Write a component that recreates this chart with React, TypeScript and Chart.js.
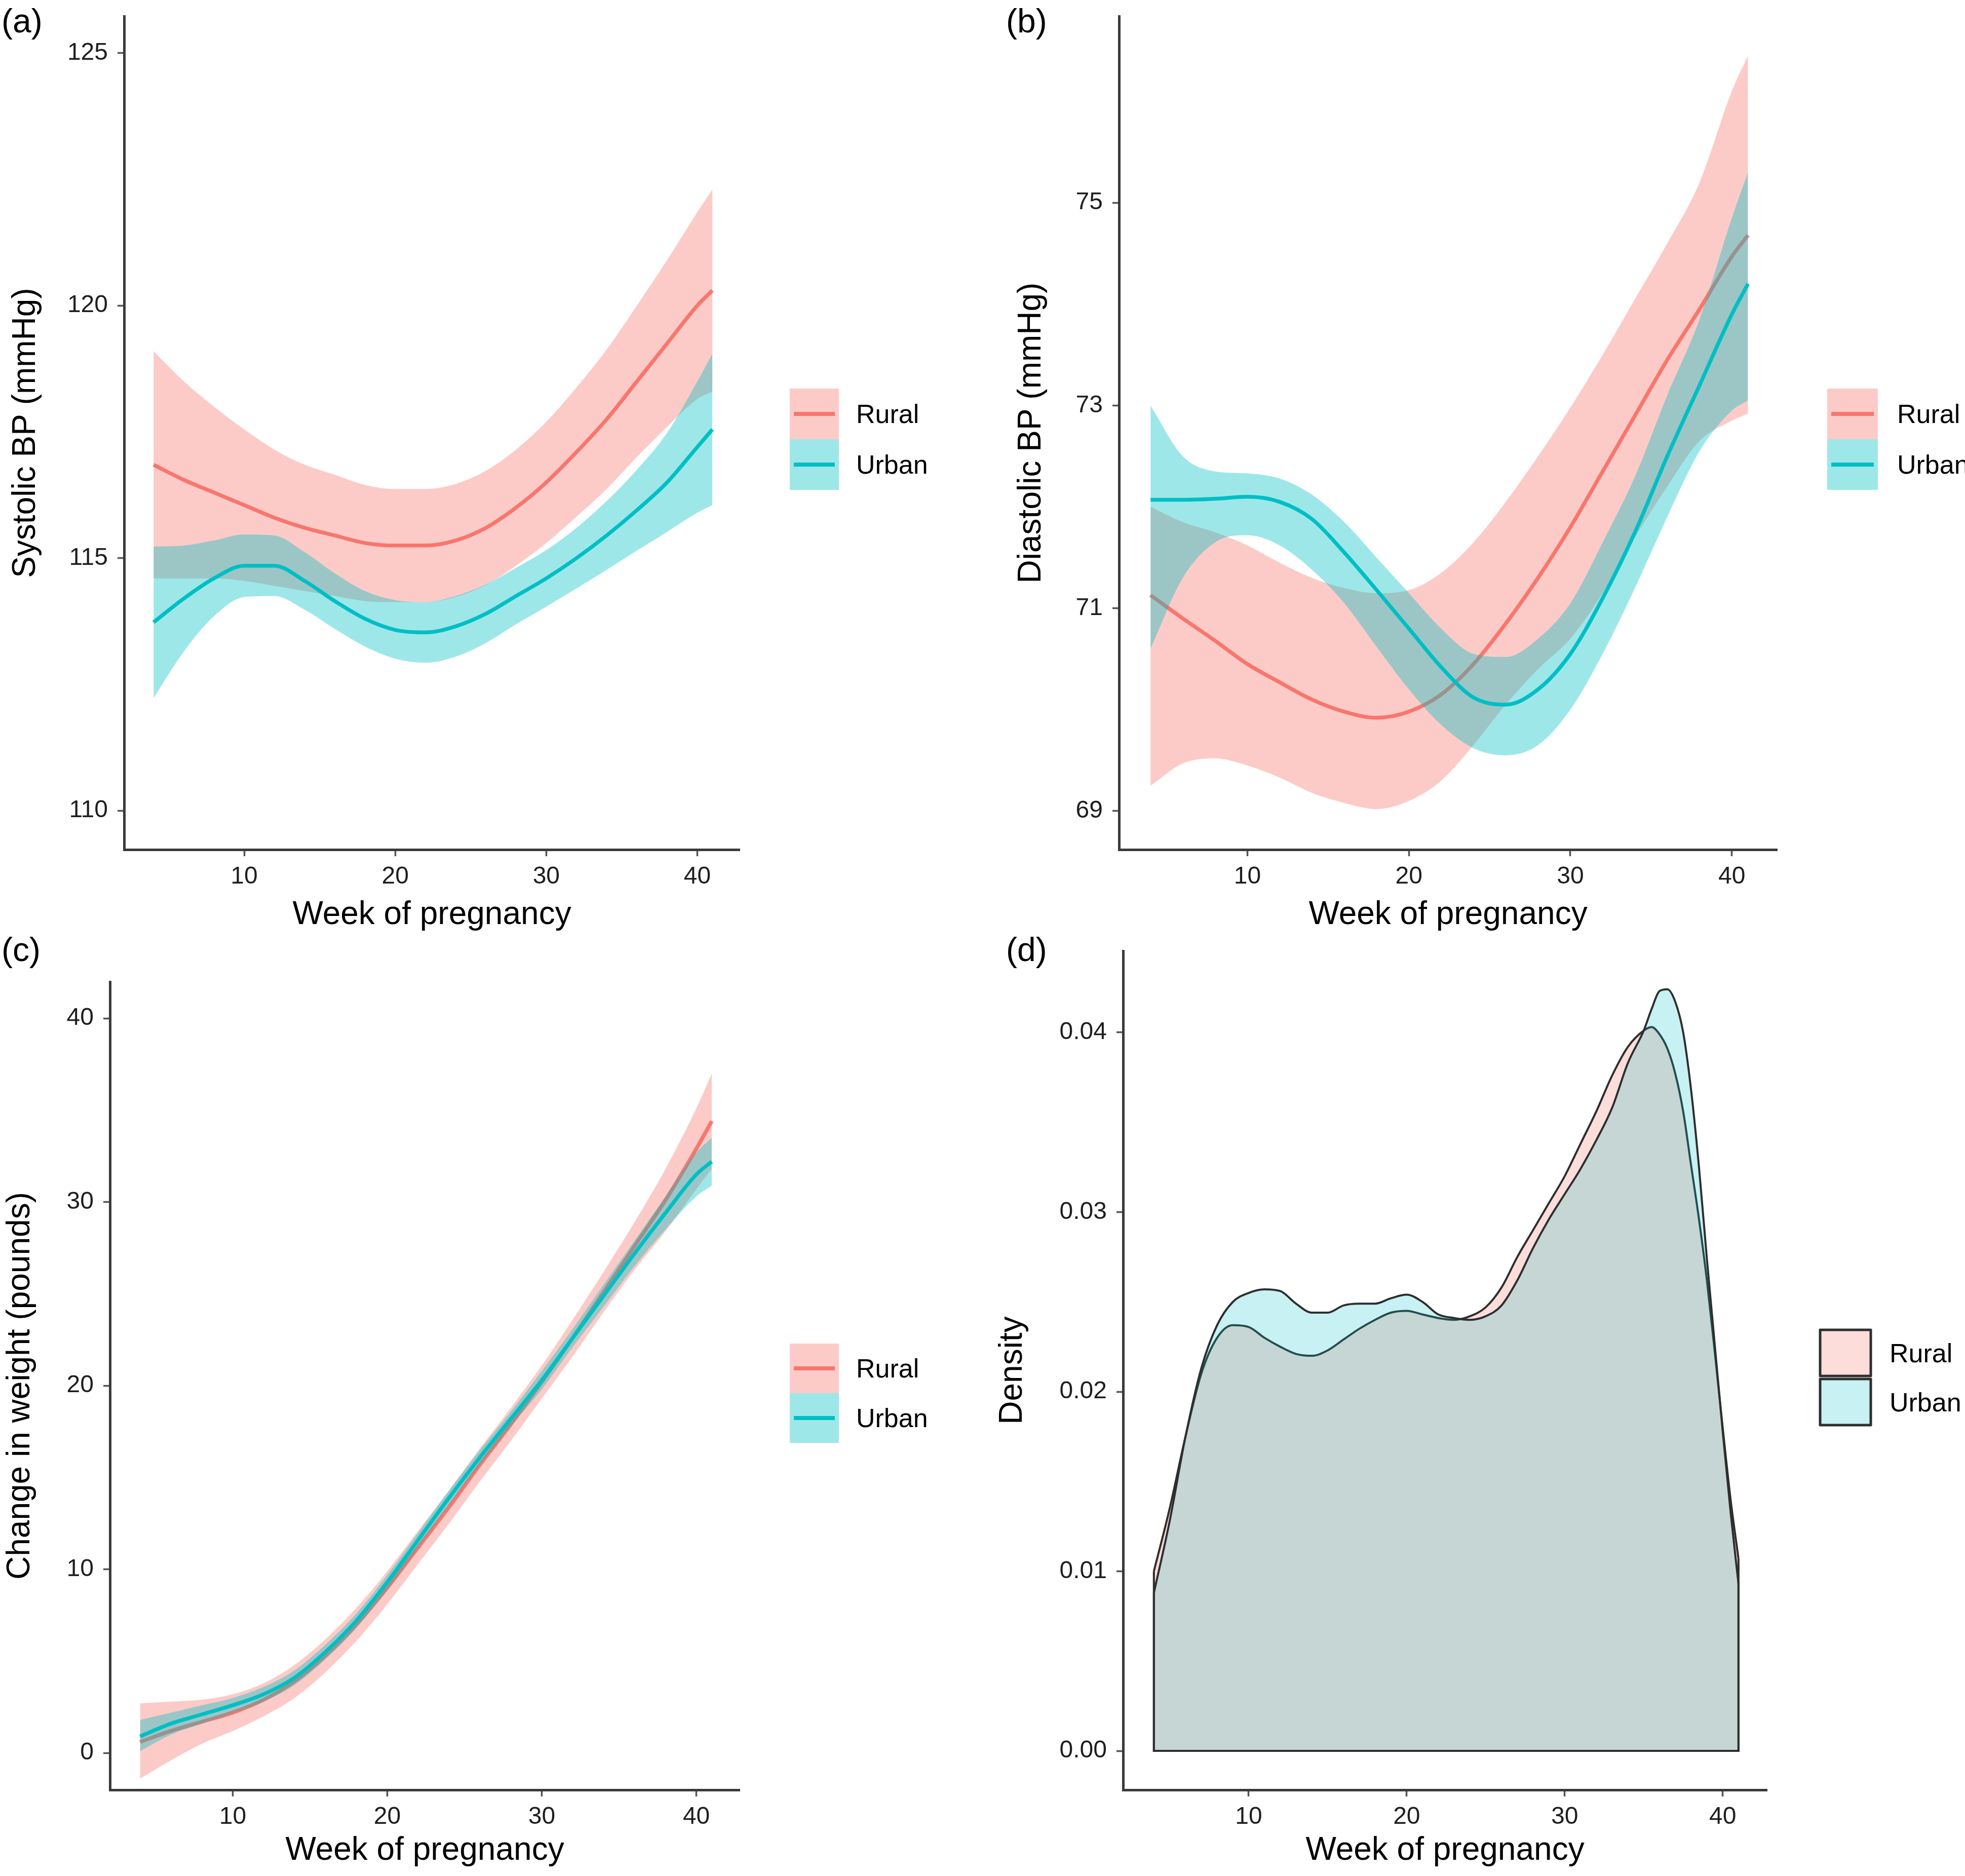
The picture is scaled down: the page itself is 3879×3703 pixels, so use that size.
import React, { useEffect, useRef } from 'react';
import { Chart, registerables } from 'chart.js';

Chart.register(...registerables);

// ---------------- DATA ----------------
const groups = ['Rural', 'Urban'];
const weeks = [4, 6, 8, 10, 12, 14, 16, 18, 20, 22, 24, 26, 28, 30, 32, 34, 36, 38, 40, 41];

// (a) Systolic BP
const sbpRural = [116.85, 116.55, 116.3, 116.05, 115.8, 115.6, 115.45, 115.3, 115.25, 115.25, 115.35, 115.6, 116.0, 116.5, 117.1, 117.75, 118.5, 119.25, 120.0, 120.3];
const sbpRuralHi = [119.1, 118.5, 118.0, 117.55, 117.15, 116.85, 116.65, 116.45, 116.37, 116.37, 116.47, 116.73, 117.15, 117.7, 118.38, 119.13, 120.0, 120.9, 121.85, 122.3];
const sbpRuralLo = [114.6, 114.6, 114.6, 114.55, 114.45, 114.35, 114.25, 114.15, 114.13, 114.13, 114.23, 114.47, 114.85, 115.3, 115.82, 116.37, 117.0, 117.6, 118.15, 118.3];
const sbpUrban = [113.73, 114.2, 114.6, 114.85, 114.85, 114.55, 114.15, 113.8, 113.58, 113.53, 113.65, 113.9, 114.25, 114.6, 115.0, 115.45, 115.95, 116.5, 117.2, 117.55];
const sbpUrbanHi = [115.23, 115.25, 115.35, 115.47, 115.45, 115.12, 114.7, 114.35, 114.17, 114.13, 114.25, 114.48, 114.81, 115.16, 115.6, 116.13, 116.75, 117.48, 118.5, 119.05];
const sbpUrbanLo = [112.23, 113.15, 113.85, 114.23, 114.25, 113.98, 113.6, 113.25, 113.01, 112.93, 113.05, 113.32, 113.69, 114.04, 114.4, 114.77, 115.15, 115.52, 115.9, 116.05];

// (b) Diastolic BP
const dbpRural = [71.13, 70.9, 70.68, 70.45, 70.27, 70.1, 69.98, 69.92, 69.98, 70.15, 70.45, 70.85, 71.3, 71.8, 72.35, 72.9, 73.45, 73.95, 74.47, 74.68];
const dbpRuralHi = [72.0, 71.85, 71.75, 71.62, 71.45, 71.3, 71.2, 71.15, 71.18, 71.35, 71.65, 72.05, 72.5, 72.98, 73.5, 74.05, 74.6, 75.2, 76.1, 76.45];
const dbpRuralLo = [69.25, 69.47, 69.52, 69.45, 69.33, 69.18, 69.08, 69.02, 69.1, 69.3, 69.65, 70.05, 70.4, 70.7, 71.15, 71.7, 72.2, 72.65, 72.85, 72.92];
const dbpUrban = [72.07, 72.07, 72.08, 72.1, 72.05, 71.88, 71.55, 71.18, 70.8, 70.42, 70.12, 70.05, 70.2, 70.55, 71.1, 71.75, 72.5, 73.2, 73.9, 74.2];
const dbpUrbanHi = [73.0, 72.5, 72.35, 72.33, 72.28, 72.12, 71.85, 71.5, 71.15, 70.8, 70.55, 70.52, 70.7, 71.05, 71.65, 72.3, 73.1, 73.85, 74.85, 75.3];
const dbpUrbanLo = [70.6, 71.3, 71.65, 71.72, 71.62, 71.38, 71.05, 70.62, 70.2, 69.85, 69.62, 69.55, 69.65, 70.0, 70.55, 71.2, 71.9, 72.55, 72.95, 73.05];

// (c) Change in weight
const wtRural = [0.6, 1.2, 1.7, 2.2, 2.9, 3.9, 5.3, 7.0, 9.0, 11.2, 13.4, 15.7, 17.9, 20.2, 22.6, 25.1, 27.6, 30.1, 32.9, 34.4];
const wtRuralHi = [2.7, 2.8, 2.9, 3.2, 3.8, 4.8, 6.2, 7.9, 9.9, 12.1, 14.3, 16.6, 18.8, 21.1, 23.6, 26.2, 28.9, 31.8, 35.1, 37.0];
const wtRuralLo = [-1.4, -0.4, 0.5, 1.2, 2.0, 3.0, 4.4, 6.1, 8.1, 10.3, 12.5, 14.8, 17.0, 19.3, 21.6, 24.0, 26.3, 28.4, 30.7, 31.8];
const wtUrban = [0.9, 1.6, 2.1, 2.6, 3.2, 4.1, 5.5, 7.2, 9.3, 11.6, 13.9, 16.1, 18.2, 20.3, 22.6, 24.9, 27.2, 29.4, 31.5, 32.2];
const wtUrbanHi = [1.8, 2.2, 2.6, 3.0, 3.6, 4.5, 5.9, 7.6, 9.7, 12.0, 14.3, 16.5, 18.6, 20.8, 23.1, 25.5, 27.9, 30.3, 32.7, 33.5];
const wtUrbanLo = [0.1, 1.0, 1.6, 2.2, 2.8, 3.7, 5.1, 6.8, 8.9, 11.2, 13.5, 15.7, 17.8, 19.8, 22.1, 24.3, 26.5, 28.5, 30.3, 30.9];

// (d) Density
const densityWeeks = [4, 5, 6, 7, 8, 9, 10, 11, 12, 13, 14, 15, 16, 17, 18, 19, 20, 21, 22, 23, 24, 25, 26, 27, 28, 29, 30, 31, 32, 33, 34, 35, 35.5, 36, 36.5, 37, 37.5, 38, 38.5, 39, 39.5, 40, 40.5, 41];
const densityRural = [0.0100, 0.0135, 0.0175, 0.0210, 0.0230, 0.0237, 0.0236, 0.0230, 0.0225, 0.0221, 0.0220, 0.0223, 0.0229, 0.0235, 0.0240, 0.0244, 0.0245, 0.0243, 0.0241, 0.0240, 0.0242, 0.0247, 0.0258, 0.0275, 0.0290, 0.0305, 0.0320, 0.0338, 0.0356, 0.0376, 0.0392, 0.0401, 0.0403, 0.0399, 0.0391, 0.0377, 0.0356, 0.0326, 0.0296, 0.0262, 0.0222, 0.0180, 0.0140, 0.0107];
const densityUrban = [0.0088, 0.0128, 0.0175, 0.0213, 0.0237, 0.0250, 0.0255, 0.0257, 0.0256, 0.0249, 0.0244, 0.0244, 0.0248, 0.0249, 0.0249, 0.0252, 0.0254, 0.0250, 0.0243, 0.0241, 0.0240, 0.0242, 0.0248, 0.0262, 0.0280, 0.0296, 0.0310, 0.0324, 0.0340, 0.0358, 0.0383, 0.0401, 0.0413, 0.0423, 0.0424, 0.0417, 0.0400, 0.0368, 0.0325, 0.0274, 0.0226, 0.0178, 0.0133, 0.0093];

// ticks
const xTicks = [10, 20, 30, 40];
const sbpTicks = [110, 115, 120, 125];
const dbpTicks = [69, 71, 73, 75];
const wtTicks = [0, 10, 20, 30, 40];
const densityTicks = [0, 0.01, 0.02, 0.03, 0.04];

// ---------------- STYLE ----------------
const FONT = "'Liberation Sans', Arial, Helvetica, sans-serif";
const RURAL = '#F8766D';
const URBAN = '#00BFC4';
const RURAL_BAND = 'rgba(248,118,109,0.38)';
const URBAN_BAND = 'rgba(0,191,196,0.38)';
const RURAL_DENS = 'rgba(248,118,109,0.25)';
const URBAN_DENS = 'rgba(0,191,196,0.22)';
const OUTLINE = '#2e2e2e';

const pts = (xs: number[], ys: number[]) => xs.map((x, i) => ({ x, y: ys[i] }));

function smoothDatasets(r: number[], rLo: number[], rHi: number[], u: number[], uLo: number[], uHi: number[]) {
  const band = (ys: number[], color: string, fill: any, order: number, label: string) => ({
    label, data: pts(weeks, ys), borderWidth: 0, borderColor: 'rgba(0,0,0,0)', backgroundColor: color,
    fill, pointRadius: 0, cubicInterpolationMode: 'monotone', order,
  });
  const line = (ys: number[], color: string, order: number, label: string) => ({
    label, data: pts(weeks, ys), borderWidth: 7.5, borderColor: color, backgroundColor: color,
    fill: false, pointRadius: 0, cubicInterpolationMode: 'monotone', order,
  });
  return [
    band(rHi, RURAL_BAND, '+1', 4, 'Rural upper'),
    band(rLo, RURAL_BAND, false, 4, 'Rural lower'),
    line(r, RURAL, 3, groups[0]),
    band(uHi, URBAN_BAND, '+1', 2, 'Urban upper'),
    band(uLo, URBAN_BAND, false, 2, 'Urban lower'),
    line(u, URBAN, 1, groups[1]),
  ];
}

function densityDatasets() {
  const last = densityWeeks.length - 1;
  const curve = (ys: number[], fillColor: string, order: number, label: string) => ({
    label, data: pts(densityWeeks, ys), borderWidth: 4, borderColor: OUTLINE, backgroundColor: fillColor,
    fill: { value: 0 }, pointRadius: 0, cubicInterpolationMode: 'monotone', order,
  });
  const edges = (ys: number[], order: number, label: string) => ({
    label,
    data: [
      { x: densityWeeks[0], y: ys[0] }, { x: densityWeeks[0], y: 0 },
      { x: densityWeeks[last], y: 0 }, { x: densityWeeks[last], y: ys[last] },
    ],
    borderWidth: 4, borderColor: OUTLINE, fill: false, pointRadius: 0, tension: 0, order,
  });
  return [
    curve(densityRural, RURAL_DENS, 4, groups[0]),
    edges(densityRural, 3, 'Rural outline'),
    curve(densityUrban, URBAN_DENS, 2, groups[1]),
    edges(densityUrban, 1, 'Urban outline'),
  ];
}

type Legend = { left: number; top: number; keyW: number; keyH: number; textX: number; boxed: boolean };
type PanelSpec = {
  id: string; tag: string; left: number; top: number; w: number; h: number;
  area: { left: number; right: number; top: number; bottom: number };
  yMin: number; yMax: number; yTicks: number[]; yDigits: number; yTitle: string;
  yTitleCenter: number; xTitleCenter: number; datasets: any[]; legend: Legend;
};

const X_MIN = 2.05;
const X_MAX = 42.8;

const panels: PanelSpec[] = [
  {
    id: 'a', tag: '(a)', left: 0, top: 0, w: 1940, h: 1850,
    area: { left: 245, right: 1460, top: 32, bottom: 1677 },
    yMin: 109.23, yMax: 125.73, yTicks: sbpTicks, yDigits: 0, yTitle: 'Systolic BP (mmHg)',
    yTitleCenter: 51, xTitleCenter: 1806,
    datasets: smoothDatasets(sbpRural, sbpRuralLo, sbpRuralHi, sbpUrban, sbpUrbanLo, sbpUrbanHi),
    legend: { left: 1559, top: 767, keyW: 97, keyH: 100, textX: 1690, boxed: false },
  },
  {
    id: 'b', tag: '(b)', left: 1940, top: 0, w: 1939, h: 1850,
    area: { left: 269, right: 1568, top: 32, bottom: 1677 },
    yMin: 68.62, yMax: 76.84, yTicks: dbpTicks, yDigits: 0, yTitle: 'Diastolic BP (mmHg)',
    yTitleCenter: 96, xTitleCenter: 1806,
    datasets: smoothDatasets(dbpRural, dbpRuralLo, dbpRuralHi, dbpUrban, dbpUrbanLo, dbpUrbanHi),
    legend: { left: 1667, top: 767, keyW: 100, keyH: 100, textX: 1805, boxed: false },
  },
  {
    id: 'c', tag: '(c)', left: 0, top: 1850, w: 1940, h: 1853,
    area: { left: 217, right: 1460, top: 88, bottom: 1683 },
    yMin: -2.01, yMax: 41.99, yTicks: wtTicks, yDigits: 0, yTitle: 'Change in weight (pounds)',
    yTitleCenter: 40, xTitleCenter: 1803,
    datasets: smoothDatasets(wtRural, wtRuralLo, wtRuralHi, wtUrban, wtUrbanLo, wtUrbanHi),
    legend: { left: 1559, top: 802, keyW: 97, keyH: 98, textX: 1690, boxed: false },
  },
  {
    id: 'd', tag: '(d)', left: 1940, top: 1850, w: 1939, h: 1853,
    area: { left: 277, right: 1548, top: 27, bottom: 1683 },
    yMin: -0.00217, yMax: 0.04454, yTicks: densityTicks, yDigits: 2, yTitle: 'Density',
    yTitleCenter: 59, xTitleCenter: 1803,
    datasets: densityDatasets(),
    legend: { left: 1653, top: 772, keyW: 100, keyH: 97, textX: 1790, boxed: true },
  },
];

function legendPlugin(p: PanelSpec) {
  const L = p.legend;
  const items = p.id === 'd'
    ? [{ label: groups[0], fill: RURAL_DENS, line: '' }, { label: groups[1], fill: URBAN_DENS, line: '' }]
    : [{ label: groups[0], fill: RURAL_BAND, line: RURAL }, { label: groups[1], fill: URBAN_BAND, line: URBAN }];
  return {
    id: 'ggLegend_' + p.id,
    afterDraw(chart: any) {
      const ctx = chart.ctx as CanvasRenderingContext2D;
      ctx.save();
      items.forEach((it, i) => {
        const y = L.top + i * L.keyH;
        if (L.boxed) {
          const inset = 3;
          ctx.fillStyle = '#ffffff';
          ctx.fillRect(L.left, y + inset, L.keyW, L.keyH - 2 * inset);
          ctx.fillStyle = it.fill;
          ctx.fillRect(L.left, y + inset, L.keyW, L.keyH - 2 * inset);
          ctx.strokeStyle = OUTLINE;
          ctx.lineWidth = 5;
          ctx.lineJoin = 'round';
          ctx.strokeRect(L.left, y + inset, L.keyW, L.keyH - 2 * inset);
        } else {
          ctx.fillStyle = it.fill;
          ctx.fillRect(L.left, y, L.keyW, L.keyH);
          ctx.strokeStyle = it.line;
          ctx.lineWidth = 8;
          ctx.beginPath();
          ctx.moveTo(L.left + 8, y + L.keyH / 2);
          ctx.lineTo(L.left + L.keyW - 8, y + L.keyH / 2);
          ctx.stroke();
        }
        ctx.fillStyle = '#000';
        ctx.font = `52px ${FONT}`;
        ctx.textAlign = 'left';
        ctx.textBaseline = 'middle';
        ctx.fillText(it.label, L.textX, y + L.keyH / 2 + 4);
      });
      ctx.restore();
    },
  };
}

function buildConfig(p: PanelSpec): any {
  const xHeight = p.h - p.area.bottom;
  const titleHalf = 32; // lineHeight 1 at 64px
  return {
    type: 'line',
    data: { datasets: p.datasets },
    options: {
      animation: false,
      responsive: false,
      maintainAspectRatio: false,
      devicePixelRatio: 1,
      events: [],
      layout: { padding: { left: 0, top: p.area.top, right: p.w - p.area.right, bottom: 0 } },
      plugins: { legend: { display: false }, tooltip: { enabled: false }, title: { display: false } },
      scales: {
        x: {
          type: 'linear', position: 'bottom', min: X_MIN, max: X_MAX,
          afterBuildTicks: (sc: any) => { sc.ticks = xTicks.map((v) => ({ value: v })); },
          afterFit: (sc: any) => { sc.height = xHeight; sc.paddingLeft = 0; sc.paddingRight = 0; },
          ticks: { font: { family: FONT, size: 48 }, color: '#1e1e1e', padding: 12, autoSkip: false, maxRotation: 0, callback: (v: any) => String(v) },
          grid: { display: true, drawOnChartArea: false, drawTicks: true, tickLength: 13, tickColor: '#555', tickWidth: 3.5 },
          border: { display: true, color: '#3a3a3a', width: 5 },
          title: {
            display: true, text: 'Week of pregnancy', color: '#000',
            font: { family: FONT, size: 64, lineHeight: 1 },
            padding: { top: 0, bottom: p.h - titleHalf - p.xTitleCenter },
          },
        },
        y: {
          type: 'linear', position: 'left', min: p.yMin, max: p.yMax,
          afterBuildTicks: (sc: any) => { sc.ticks = p.yTicks.map((v) => ({ value: v })); },
          afterFit: (sc: any) => { sc.width = p.area.left; sc.paddingTop = 0; sc.paddingBottom = 0; },
          ticks: { font: { family: FONT, size: 48 }, color: '#1e1e1e', padding: 19, autoSkip: false, callback: (v: any) => Number(v).toFixed(p.yDigits) },
          grid: { display: true, drawOnChartArea: false, drawTicks: true, tickLength: 13, tickColor: '#555', tickWidth: 3.5 },
          border: { display: true, color: '#3a3a3a', width: 5 },
          title: {
            display: true, text: p.yTitle, color: '#000',
            font: { family: FONT, size: 64, lineHeight: 1 },
            padding: { top: p.yTitleCenter - titleHalf, bottom: 0 },
          },
        },
      },
    },
    plugins: [legendPlugin(p)],
  };
}

function Panel({ spec }: { spec: PanelSpec }) {
  const ref = useRef<HTMLCanvasElement>(null);
  useEffect(() => {
    const chart = new Chart(ref.current as HTMLCanvasElement, buildConfig(spec));
    return () => chart.destroy();
  }, [spec]);
  return (
    <canvas
      ref={ref}
      width={spec.w}
      height={spec.h}
      style={{ position: 'absolute', left: spec.left, top: spec.top, width: spec.w, height: spec.h }}
    />
  );
}

const labelPos: Record<string, { left: number; top: number }> = {
  a: { left: 3, top: 8 },
  b: { left: 1986, top: 8 },
  c: { left: 3, top: 1841 },
  d: { left: 1986, top: 1841 },
};

export default function App() {
  return (
    <div style={{ position: 'absolute', left: 0, top: 0, width: 3879, height: 3703, background: '#fff', overflow: 'hidden' }}>
      {panels.map((p) => (
        <Panel key={p.id} spec={p} />
      ))}
      {panels.map((p) => (
        <div
          key={'lbl' + p.id}
          style={{
            position: 'absolute', left: labelPos[p.id].left, top: labelPos[p.id].top,
            fontFamily: FONT, fontSize: 66, lineHeight: '66px', color: '#000',
          }}
        >
          {p.tag}
        </div>
      ))}
    </div>
  );
}
